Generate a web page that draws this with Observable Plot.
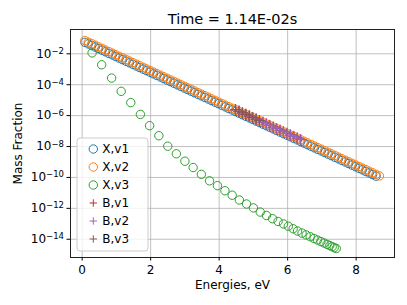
<!DOCTYPE html>
<html><head><meta charset="utf-8">
<script src="https://cdn.jsdelivr.net/npm/d3@7"></script>
<script src="https://cdn.jsdelivr.net/npm/@observablehq/plot@0.6"></script>
<style>body{margin:0;background:#fff;} svg{font-family:"DejaVu Sans",sans-serif;}</style>
</head><body><div id="chart"></div>
<script>
// ---- data ----
const titleText = "Time = 1.14E-02s";
const xLabel = "Energies, eV";
const yLabel = "Mass Fraction";
const seriesNames = ["X,v1","X,v2","X,v3","B,v1","B,v2","B,v3"];
const seriesColors = ["#1f77b4","#ff7f0e","#2ca02c","#d62728","#9467bd","#8c564b"];
const xTicks = [0,2,4,6,8];
const yTicks = [1e-2,1e-4,1e-6,1e-8,1e-10,1e-12,1e-14];

const energiesX = [0.08,0.18,0.28,0.38,0.48,0.58,0.68,0.78,0.88,0.98,1.08,1.18,1.28,1.38,1.48,1.58,1.68,1.78,1.88,1.98,
2.08,2.18,2.28,2.38,2.48,2.58,2.68,2.78,2.88,2.98,3.08,3.18,3.28,3.38,3.48,3.58,3.68,3.78,3.88,3.98,
4.08,4.18,4.28,4.38,4.48,4.58,4.68,4.78,4.88,4.98,5.08,5.18,5.28,5.38,5.48,5.58,5.68,5.78,5.88,5.98,
6.08,6.18,6.28,6.38,6.48,6.58,6.68,6.78,6.88,6.98,7.08,7.18,7.28,7.38,7.48,7.58,7.68,7.78,7.88,7.98,
8.08,8.18,8.28,8.38,8.48,8.58,8.68];

const xV2 = [7.24e-2,5.73e-2,4.53e-2,3.58e-2,2.84e-2,2.24e-2,1.77e-2,1.40e-2,1.11e-2,8.77e-3,
6.93e-3,5.50e-3,4.34e-3,3.44e-3,2.72e-3,2.15e-3,1.70e-3,1.34e-3,1.06e-3,8.41e-4,
6.65e-4,5.26e-4,4.16e-4,3.29e-4,2.60e-4,2.06e-4,1.63e-4,1.29e-4,1.02e-4,8.05e-5,
6.37e-5,5.04e-5,3.98e-5,3.15e-5,2.49e-5,1.97e-5,1.56e-5,1.23e-5,9.75e-6,7.71e-6,
6.11e-6,4.83e-6,3.82e-6,3.02e-6,2.39e-6,1.89e-6,1.49e-6,1.18e-6,9.35e-7,7.40e-7,
5.85e-7,4.62e-7,3.66e-7,2.89e-7,2.29e-7,1.81e-7,1.43e-7,1.13e-7,8.95e-8,7.08e-8,
5.60e-8,4.43e-8,3.51e-8,2.77e-8,2.19e-8,1.73e-8,1.37e-8,1.08e-8,8.59e-9,6.79e-9,
5.37e-9,4.25e-9,3.36e-9,2.65e-9,2.10e-9,1.66e-9,1.31e-9,1.04e-9,8.22e-10,6.50e-10,
5.14e-10,4.06e-10,3.21e-10,2.55e-10,2.01e-10,1.59e-10,1.26e-10];

const xV1 = [5.50e-2,4.35e-2,3.44e-2,2.72e-2,2.16e-2,1.70e-2,1.35e-2,1.06e-2,8.44e-3,6.67e-3,
5.27e-3,4.18e-3,3.30e-3,2.61e-3,2.07e-3,1.63e-3,1.29e-3,1.02e-3,8.06e-4,6.39e-4,
5.05e-4,4.00e-4,3.16e-4,2.50e-4,1.98e-4,1.57e-4,1.24e-4,9.80e-5,7.75e-5,6.12e-5,
4.84e-5,3.83e-5,3.02e-5,2.39e-5,1.89e-5,1.50e-5,1.19e-5,9.35e-6,7.41e-6,5.86e-6,
4.64e-6,3.67e-6,2.90e-6,2.30e-6,1.82e-6,1.44e-6,1.13e-6,8.97e-7,7.11e-7,5.62e-7,
4.45e-7,3.51e-7,2.78e-7,2.20e-7,1.74e-7,1.38e-7,1.09e-7,8.59e-8,6.80e-8,5.38e-8,
4.26e-8,3.37e-8,2.67e-8,2.11e-8,1.66e-8,1.31e-8,1.04e-8,8.21e-9,6.53e-9,5.16e-9,
4.08e-9,3.23e-9,2.55e-9,2.01e-9,1.60e-9,1.26e-9,9.96e-10,7.90e-10,6.25e-10,4.94e-10,
3.91e-10,3.09e-10,2.44e-10,1.94e-10,1.53e-10,1.21e-10];

const energiesV3 = [0.29,0.57,0.86,1.14,1.42,1.70,1.97,2.24,2.50,2.75,3.00,3.24,3.48,3.72,3.95,4.17,4.38,4.59,4.80,5.00,
5.20,5.38,5.56,5.72,5.88,6.02,6.16,6.29,6.42,6.54,6.66,6.77,6.87,6.97,7.06,7.15,7.23,7.30,7.36,7.42];
const xV3 = [1.15e-2,1.95e-3,2.69e-4,3.72e-5,6.92e-6,1.20e-6,2.24e-7,5.01e-8,1.05e-8,3.39e-9,
1.12e-9,4.37e-10,1.58e-10,6.03e-11,2.95e-11,1.38e-11,7.08e-12,3.47e-12,1.91e-12,1.07e-12,
5.75e-13,3.47e-13,2.14e-13,1.41e-13,9.77e-14,6.92e-14,4.79e-14,3.39e-14,2.51e-14,1.91e-14,
1.45e-14,1.12e-14,8.91e-15,7.08e-15,5.75e-15,4.68e-15,3.89e-15,3.31e-15,2.88e-15,2.51e-15];

const energiesB = [4.48,4.58,4.68,4.78,4.88,4.98,5.08,5.18,5.28,5.38,5.48,5.58,5.68,5.78,5.88,5.98,6.08,6.18,6.28,6.38];
const bV1 = [2.39e-6,1.89e-6,1.49e-6,1.18e-6,9.35e-7,7.40e-7,5.85e-7,4.62e-7,3.66e-7,2.89e-7,
2.29e-7,1.81e-7,1.43e-7,1.13e-7,8.95e-8,7.08e-8,5.60e-8,4.43e-8,3.51e-8,2.77e-8];
const bV2 = [2.39e-6,1.89e-6,1.49e-6,1.18e-6,9.35e-7,7.40e-7,5.85e-7,4.62e-7,3.66e-7,2.89e-7,
2.29e-7,1.81e-7,1.43e-7,1.13e-7,8.95e-8,7.08e-8,5.60e-8,4.43e-8,3.51e-8,2.77e-8];
const bV3 = [2.45e-6,1.94e-6,1.53e-6,1.21e-6,9.60e-7,7.60e-7,6.00e-7,4.75e-7];

// ---- build ----
const pts = (es, vs) => vs.map((v, i) => ({e: es[i], v}));
const expOf = d => String(Math.round(Math.log10(d)));

const circ = (data, c) => Plot.dot(data, {x: "e", y: "v", r: 4.2, stroke: c, strokeWidth: 1, fill: "none"});
const plus = (data, c) => Plot.dot(data, {x: "e", y: "v", r: 3.7, symbol: "plus", stroke: c, strokeWidth: 1});

const plot = Plot.plot({
  width: 407, height: 305,
  marginLeft: 70, marginRight: 13, marginTop: 29, marginBottom: 48,
  style: {fontFamily: "DejaVu Sans, sans-serif", fontSize: "12px", color: "black", background: "white"},
  x: {domain: [-0.34, 9.12]},
  y: {type: "log", domain: [6.6e-16, 0.374]},
  marks: [
    Plot.gridX(xTicks, {stroke: "#b0b0b0", strokeOpacity: 0.8, strokeWidth: 1}),
    Plot.gridY(yTicks, {stroke: "#b0b0b0", strokeOpacity: 0.8, strokeWidth: 1}),
    circ(pts(energiesX, xV1), seriesColors[0]),
    circ(pts(energiesX, xV2), seriesColors[1]),
    circ(pts(energiesV3, xV3), seriesColors[2]),
    plus(pts(energiesB, bV1), seriesColors[3]),
    plus(pts(energiesB, bV2), seriesColors[4]),
    plus(pts(energiesB, bV3), seriesColors[5]),
    Plot.frame({stroke: "#222", strokeWidth: 1}),
    Plot.axisX(xTicks, {tickSize: 3.5, tickPadding: 4, label: null, fontSize: 12}),
    Plot.axisY(yTicks, {tickSize: 3.5, tickPadding: 3, tickFormat: d => "10^" + expOf(d), label: null, fontSize: 12}),
    Plot.text([titleText], {text: d => d, frameAnchor: "top", dy: -10, fontSize: 14.5, lineAnchor: "middle"}),
    Plot.text([xLabel], {text: d => d, frameAnchor: "bottom", dy: 28, fontSize: 12, lineAnchor: "middle"}),
    Plot.text([yLabel], {text: d => d, frameAnchor: "left", dx: -52, rotate: -90, textAnchor: "middle", fontSize: 12, lineAnchor: "middle"})
  ]
});

const svg = d3.select(plot);
// render y tick labels as 10 with a raised, smaller exponent (like mathtext)
svg.selectAll("text").each(function() {
  const t = d3.select(this);
  const s = t.text();
  if (/^10\^-?\d+$/.test(s)) {
    const e = s.split("^")[1].replace("-", "\u2212");
    t.text("");
    t.append("tspan").text("10");
    t.append("tspan").attr("dy", "-0.45em").attr("font-size", "8.5px").text(e);
  }
});

// legend (matplotlib-style box inside the axes, lower left)
const lg = svg.append("g");
lg.append("rect").attr("x", 77).attr("y", 138).attr("width", 71).attr("height", 113).attr("rx", 3)
  .attr("fill", "white").attr("fill-opacity", 0.8).attr("stroke", "#cccccc").attr("stroke-width", 1);
seriesNames.forEach((name, i) => {
  const cy = 149 + i * 18;
  if (i < 3) {
    lg.append("circle").attr("cx", 93.3).attr("cy", cy).attr("r", 4.2)
      .attr("fill", "none").attr("stroke", seriesColors[i]).attr("stroke-width", 1);
  } else {
    lg.append("path").attr("d", `M${93.3-3.7},${cy}H${93.3+3.7}M93.3,${cy-3.7}V${cy+3.7}`)
      .attr("stroke", seriesColors[i]).attr("stroke-width", 1).attr("fill", "none");
  }
  lg.append("text").attr("x", 115.7).attr("y", cy).attr("dy", "0.36em")
    .attr("font-size", 12).attr("fill", "black").text(name);
});

document.getElementById("chart").appendChild(plot);
</script>
</body></html>
